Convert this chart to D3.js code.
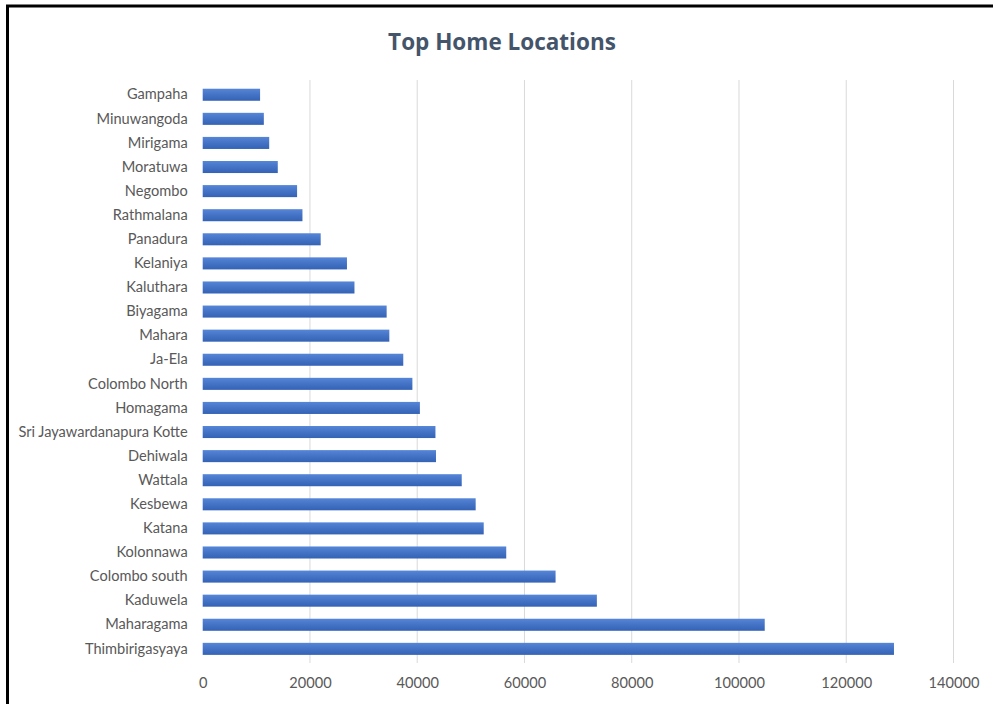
<!DOCTYPE html>
<html>
<head>
<meta charset="utf-8">
<script src="https://cdn.jsdelivr.net/npm/d3@7"></script>
<style>
  html, body { margin: 0; padding: 0; background: #ffffff; }
  svg { display: block; }
</style>
</head>
<body>
<svg id="chart" width="993" height="704"></svg>
<script>
// Home locations, listed top to bottom as drawn
const categories = [
  "Gampaha", "Minuwangoda", "Mirigama", "Moratuwa", "Negombo", "Rathmalana",
  "Panadura", "Kelaniya", "Kaluthara", "Biyagama", "Mahara", "Ja-Ela",
  "Colombo North", "Homagama", "Sri Jayawardanapura Kotte", "Dehiwala",
  "Wattala", "Kesbewa", "Katana", "Kolonnawa", "Colombo south", "Kaduwela",
  "Maharagama", "Thimbirigasyaya"
];
const values = [
  10700, 11400, 12400, 14000, 17600, 18600,
  22000, 26900, 28300, 34300, 34800, 37400,
  39100, 40500, 43400, 43500,
  48300, 50900, 52400, 56600, 65800, 73500,
  104800, 128900
];
const xTicks = [0, 20000, 40000, 60000, 80000, 100000, 120000, 140000];
const title = "Top Home Locations";

const svg = d3.select("#chart");
const W = 993, H = 704;
const plot = { left: 202.7, right: 953.5, top: 82.7, bottom: 660.9 };

// frame lines along the top and left edges
svg.append("line").attr("x1", 6).attr("x2", W).attr("y1", 6).attr("y2", 6)
  .attr("stroke", "#000").attr("stroke-width", 3);
svg.append("line").attr("x1", 7.5).attr("x2", 7.5).attr("y1", 5).attr("y2", H)
  .attr("stroke", "#000").attr("stroke-width", 3);

const x = d3.scaleLinear().domain([0, 140000]).range([plot.left, plot.right]);
const y = d3.scaleBand().domain(categories).range([plot.top, plot.bottom])
  .paddingInner(0.5).paddingOuter(0.25);

// vertical gridlines
svg.append("g").selectAll("line").data(xTicks.slice(1)).join("line")
  .attr("x1", d => x(d)).attr("x2", d => x(d))
  .attr("y1", 80).attr("y2", 663)
  .attr("stroke", "#d9d9d9").attr("stroke-width", 1);

// bar gradient
const defs = svg.append("defs");
const grad = defs.append("linearGradient").attr("id", "barFill")
  .attr("x1", 0).attr("y1", 0).attr("x2", 0).attr("y2", 1);
grad.append("stop").attr("offset", "0%").attr("stop-color", "#5686d8");
grad.append("stop").attr("offset", "50%").attr("stop-color", "#4472c4");
grad.append("stop").attr("offset", "100%").attr("stop-color", "#3462b6");

svg.append("g").selectAll("rect").data(categories).join("rect")
  .attr("x", x(0))
  .attr("y", d => y(d))
  .attr("width", (d, i) => x(values[i]) - x(0))
  .attr("height", y.bandwidth())
  .attr("fill", "url(#barFill)");

// category axis
const yAxis = svg.append("g")
  .attr("transform", `translate(${plot.left},0)`)
  .call(d3.axisLeft(y).tickSize(0).tickPadding(15));
yAxis.select(".domain").remove();
yAxis.selectAll("text")
  .attr("fill", "#595959")
  .style("font-family", "Lato, 'Open Sans', sans-serif")
  .style("font-size", "14.6px");

// value axis
const xAxis = svg.append("g")
  .attr("transform", `translate(0,${plot.bottom})`)
  .call(d3.axisBottom(x).tickValues(xTicks).tickFormat(d3.format("d")).tickSize(0).tickPadding(17));
xAxis.select(".domain").remove();
xAxis.selectAll("text")
  .attr("fill", "#595959")
  .style("font-family", "Lato, 'Open Sans', sans-serif")
  .style("font-size", "14.6px");

// title
svg.append("text")
  .attr("x", 502).attr("y", 50)
  .attr("text-anchor", "middle")
  .attr("fill", "#44546a")
  .style("font-family", "'Open Sans', Lato, sans-serif")
  .style("font-weight", "bold")
  .style("font-size", "22.5px")
  .text(title);
</script>
</body>
</html>
